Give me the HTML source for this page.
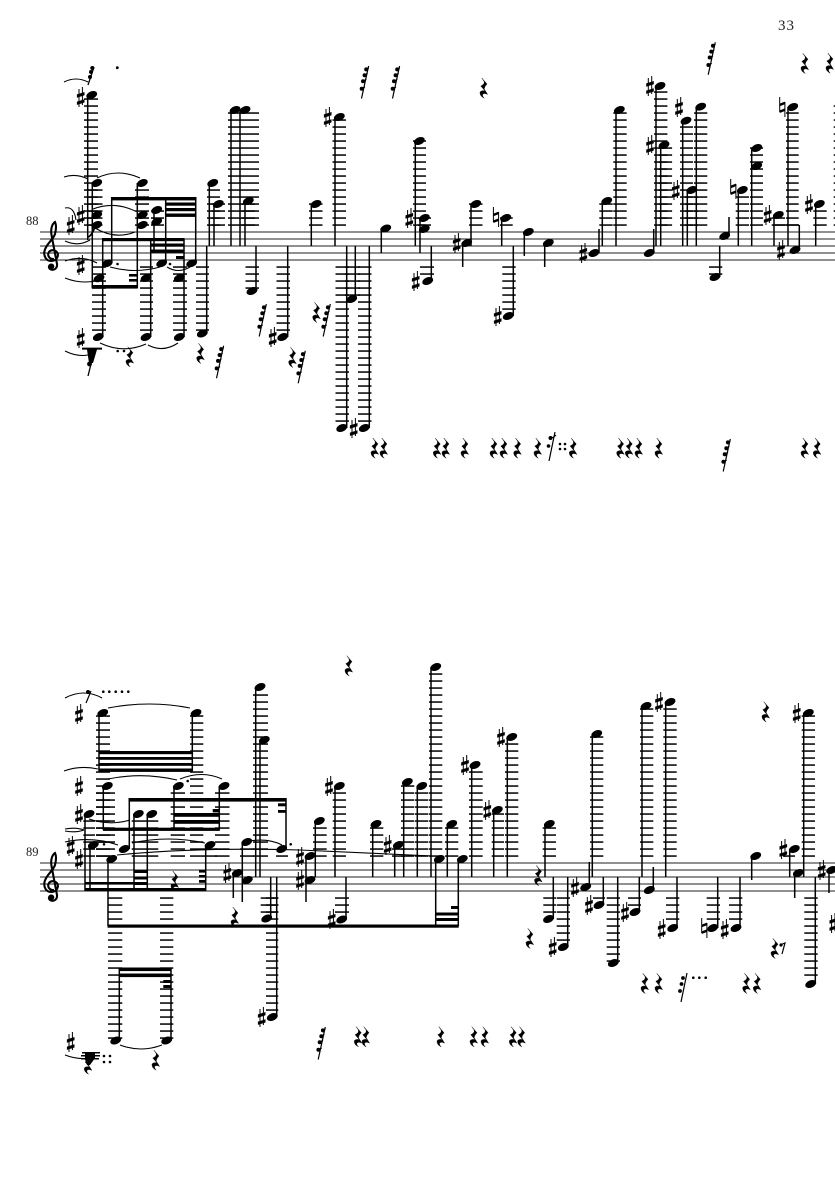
<!DOCTYPE html>
<html><head><meta charset="utf-8"><style>
html,body{margin:0;padding:0;background:#fff;width:835px;height:1181px;overflow:hidden}
svg{display:block}
text{font-family:"Liberation Serif",serif;fill:#222}
</style></head><body>
<svg width="835" height="1181" viewBox="0 0 835 1181" xmlns="http://www.w3.org/2000/svg">
<defs>
<pattern id="a" width="900" height="7" y="0.3" patternUnits="userSpaceOnUse"><rect width="900" height="1.5" fill="#000"/></pattern>
<pattern id="b" width="900" height="7" y="1.3" patternUnits="userSpaceOnUse"><rect width="900" height="1.5" fill="#000"/></pattern>
<ellipse id="n" rx="5.7" ry="3.6" transform="rotate(-22)"/>
<g id="s"><path d="M-1.7-8V10M1.7-10V8" stroke="#000" stroke-width="1" fill="none"/><path d="M-3.8-2.6L3.8-5V-1.7L-3.8.7ZM-3.8 4.6L3.8 2.2V5.5L-3.8 7.9Z"/></g>
<g id="t"><path d="M-2.6-10V5M2.6-5V10" stroke="#000" stroke-width="1" fill="none"/><path d="M-2.6-3.4L2.6-5.4V-2.8L-2.6-.8ZM-2.6 3.4L2.6 1.4V4L-2.6 6Z"/></g>
<path id="r" d="M-2.2-10L3-4Q.4-1.5.2 1L3.6 6.4Q-.6 4.4-1.6 7Q-1.3 8.8.2 10.2Q-4.4 8-4 4Q-2.2 2 1 3L-3.2-2Q1.2-4 0-6.8Z" stroke="#000" stroke-width=".4"/>
<g id="h"><path d="M-3.5 16.5L3.6-16" stroke="#000" stroke-width="1.2"/><circle cx="-3.3" cy="6.7" r="2"/><circle cx="-2" cy="-.8" r="2"/><circle cx="-.4" cy="-6.7" r="2"/><circle cx="1.2" cy="-12.6" r="2"/><path d="M-3.3 6.7L0 5M-2-.8L1.3-2.6M-.4-6.7L2.6-8.6M1.2-12.6L3.8-14.2" stroke="#000" stroke-width="1.2"/></g>
<path id="c" d="M54 259C49 259.5 47 255 49 252C51 249 56 250 57.5 253C59 257 56 261 51 261C46 261 43.5 256 44.5 251C46 244 53 240 55 234C56 230 56.5 225 55 222C52 224 50.5 229 51.5 235L57 264C57.5 269 53 271 50 269C48 267.5 49 264.5 51.5 264.5" fill="none" stroke="#000" stroke-width="2.1"/>
</defs>

<text x="778" y="30" font-size="15" letter-spacing="1">33</text>
<text x="26" y="225" font-size="12.5">88</text>
<text x="26" y="856" font-size="12.5">89</text>

<path d="M40 232H835M40 239H835M40 246H835M40 253H835M40 260H835M40 863H835M40 870H835M40 877H835M40 884H835M40 891H835" stroke="#222" stroke-width="1.1" fill="none"/>
<use href="#c"/><circle cx="51.5" cy="266.3" r="2.8"/>
<use href="#c" y="631"/><circle cx="51.5" cy="897.3" r="2.8"/>

<g fill="url(#a)">
<rect x="84" y="98" width="14" height="129"/>
<rect x="88.5" y="189" width="14" height="38"/>
<rect x="135" y="189" width="14" height="38"/>
<rect x="151" y="210" width="13" height="17"/>
<rect x="92" y="266" width="14" height="66"/>
<rect x="140" y="266" width="13" height="66"/>
<rect x="173" y="266" width="14" height="66"/>
<rect x="196" y="266" width="13" height="66"/>
<rect x="207" y="189" width="13" height="38"/>
<rect x="211.5" y="203" width="13.5" height="24"/>
<rect x="228" y="112" width="31" height="115"/>
<rect x="241.5" y="203" width="13.5" height="24"/>
<rect x="245.5" y="266" width="13.5" height="24"/>
<rect x="276.5" y="266" width="13.5" height="66"/>
<rect x="309" y="203" width="13.5" height="24"/>
<rect x="332.5" y="119" width="13.5" height="108"/>
<rect x="335.5" y="266" width="13.5" height="161"/>
<rect x="345" y="266" width="15" height="30"/>
<rect x="358" y="266" width="13.5" height="161"/>
<rect x="413" y="140" width="13" height="87"/>
<rect x="418" y="217" width="13" height="10"/>
<rect x="420" y="266" width="14" height="10"/>
<rect x="469" y="203" width="13.5" height="24"/>
<rect x="500" y="217" width="12.7" height="10"/>
<rect x="502.3" y="266" width="13.4" height="45"/>
<rect x="599.3" y="203" width="13.4" height="24"/>
<rect x="613.3" y="112" width="13.4" height="115"/>
<rect x="654" y="91" width="13.4" height="136"/>
<rect x="658.7" y="147" width="13.4" height="80"/>
<rect x="680" y="126" width="13" height="101"/>
<rect x="694" y="112" width="13.3" height="115"/>
<rect x="685" y="196" width="13" height="31"/>
<rect x="709" y="266" width="13.3" height="10"/>
<rect x="735.7" y="196" width="13.3" height="31"/>
<rect x="750" y="147" width="13" height="80"/>
<rect x="771.7" y="217" width="13.3" height="10"/>
<rect x="786" y="112" width="12.7" height="115"/>
<rect x="813.3" y="210" width="13.4" height="17"/>
<rect x="833.7" y="105" width="2" height="122"/>
</g>

<g fill="url(#b)">
<rect x="96" y="715" width="14" height="143"/>
<rect x="190" y="715" width="13.3" height="143"/>
<rect x="96" y="792" width="19" height="66"/>
<rect x="170.7" y="792" width="14.3" height="66"/>
<rect x="215" y="792" width="14.5" height="66"/>
<rect x="131.7" y="820" width="26.6" height="38"/>
<rect x="83.3" y="820" width="11.7" height="38"/>
<rect x="203" y="848" width="14" height="10"/>
<rect x="240" y="848" width="14" height="10"/>
<rect x="276" y="855" width="12" height="3"/>
<rect x="253" y="693" width="15" height="165"/>
<rect x="108" y="897" width="14.3" height="143"/>
<rect x="160" y="897" width="13.3" height="143"/>
<rect x="260.7" y="897" width="17.6" height="17"/>
<rect x="266" y="897" width="12.3" height="114"/>
<rect x="313" y="827" width="13.7" height="31"/>
<rect x="332.7" y="792" width="13.3" height="66"/>
<rect x="335" y="897" width="14" height="17"/>
<rect x="370" y="827" width="13.3" height="31"/>
<rect x="392" y="848" width="13" height="10"/>
<rect x="401" y="785" width="13.3" height="73"/>
<rect x="415" y="792" width="13.3" height="66"/>
<rect x="429" y="673" width="13.3" height="185"/>
<rect x="445" y="827" width="13.3" height="31"/>
<rect x="469" y="771" width="13.7" height="87"/>
<rect x="491.7" y="813" width="12.3" height="45"/>
<rect x="505" y="743" width="13.3" height="115"/>
<rect x="542.7" y="827" width="13.3" height="31"/>
<rect x="543.3" y="897" width="12.7" height="17"/>
<rect x="556.7" y="897" width="13.3" height="45"/>
<rect x="590" y="736" width="13.3" height="122"/>
<rect x="593" y="897" width="12" height="3"/>
<rect x="606.7" y="897" width="13.3" height="66"/>
<rect x="628" y="897" width="13" height="10"/>
<rect x="640" y="708" width="13.3" height="150"/>
<rect x="663.3" y="708" width="13.4" height="150"/>
<rect x="666" y="897" width="13.3" height="24"/>
<rect x="706.7" y="897" width="13.3" height="24"/>
<rect x="729" y="897" width="13.3" height="24"/>
<rect x="783" y="855" width="12" height="3"/>
<rect x="801.7" y="715" width="13.3" height="143"/>
<rect x="804.3" y="897" width="13.4" height="80"/>
</g>

<path fill="none" stroke="#000" stroke-width="1.5" d="
M87.7 95V240M92.3 183V288M137.3 183V288M111.7 197V263M165.7 197V263M195.7 197V263M102.7 238V337M150.7 239V337M184 239V337M154 210V250
M206.7 246V333M209.3 183V246M214 204V246M231 110V246M240 110V246M245 201V246M256 246V291M287.7 246V337M311.3 204V246M335 117V246M346.7 246V428M355.3 246V299M369.3 246V428M381.3 228V253M415.3 141V246M420 218V253M431.3 246V281M462.7 243V267M471 204V246M501.7 218V246M513.3 246V316M524.3 232V256M544.7 243V267M599 229V253M602.3 201V246M616 110V246M653.7 229V253M656 86V246M660.7 145V246M682.7 121V246M696.3 107V246M687.3 190V246M729 217V236M719.7 246V277M738.3 190V246M751.7 148V246M774 215V246M799.3 225V250M788 107V246M815.7 204V246
M99 713V771M192.3 713V771M103.3 786V830M174 786V830M219.3 786V830M85 814V891M90 845V891M108 859V926M129.3 798V849M286 798V849M134 814V891M147.3 814V891M205.7 845V891M242.3 842V902M233.3 873V898M251 877V880M255.7 687V877M260 740V877M270.7 877V918M276.7 877V1017M119.3 968V1040M171 968V1040
M306 856V902M315.3 821V877M335 786V877M346 877V919M372.7 824V877M394.7 845V877M403.7 782V877M417.3 786V877M431 667V877M435.7 859V926M447.3 824V877M458.3 859V926M471.7 765V877M493.7 810V877M507.3 737V877M545 824V877M553.3 877V919M567.7 877V947M589.3 862V887M592.3 734V877M603.3 877V905M617.7 877V963M639.3 877V912M642 706V877M653.3 867V890M665.7 702V877M677 877V928M717.7 877V928M740 877V928M751.7 856V880M789.7 849V877M794.7 873V898M803.7 713V877M815.3 877V984M829 870V893"/>
<path d="M775 225H799" stroke="#000" stroke-width="1.4"/>

<g>
<rect x="111" y="197" width="85.5" height="3.4"/>
<rect x="165.7" y="202.5" width="30.5" height="3.2"/><rect x="165.7" y="208" width="30.5" height="3.2"/><rect x="165.7" y="213.5" width="30.5" height="3.4"/>
<rect x="102.2" y="238" width="82.3" height="3.2"/><rect x="150.7" y="243.5" width="33.5" height="3.2"/><rect x="150.7" y="249.5" width="33.5" height="3.2"/><rect x="176" y="256" width="8.3" height="3"/>
<rect x="91.7" y="285" width="46" height="3.6"/><rect x="129" y="274" width="8.5" height="2.6"/><rect x="129" y="279" width="8.5" height="2.6"/>
<rect x="98.5" y="751" width="94.3" height="3.2"/><rect x="98.5" y="757" width="94.3" height="2.8"/><rect x="98.5" y="763" width="94.3" height="2.8"/><rect x="98.5" y="768.5" width="94.3" height="3.4"/>
<rect x="103" y="827.7" width="116.8" height="3.2"/><rect x="174" y="813" width="45.5" height="3.8"/><rect x="174" y="820" width="45.5" height="3.8"/><rect x="212.7" y="809" width="6.8" height="3.4"/>
<rect x="128.5" y="798" width="158" height="3.6"/><rect x="278" y="803.3" width="8.3" height="3"/><rect x="278" y="810" width="8.3" height="2.8"/>
<rect x="85" y="888" width="121" height="3.2"/><rect x="85" y="882" width="48.5" height="2.6"/>
<rect x="133.5" y="870" width="14" height="3"/><rect x="133.5" y="876.5" width="14" height="3"/><rect x="133.5" y="882" width="14" height="3"/>
<rect x="199" y="870" width="7" height="2.6"/><rect x="199" y="875" width="7" height="2.6"/><rect x="199" y="880" width="7" height="2.8"/>
<rect x="107.5" y="924.5" width="351.2" height="3.2"/>
<rect x="119" y="967.5" width="52.5" height="3.6"/><rect x="119" y="973.5" width="52.5" height="3.6"/><rect x="163.3" y="980" width="8.2" height="3"/><rect x="163.3" y="985" width="8.2" height="3"/>
<rect x="435.7" y="912.5" width="23" height="3"/><rect x="435.7" y="918" width="23" height="3"/><rect x="451" y="906" width="7.5" height="3"/>
</g>

<g>
<use href="#n" x="91.7" y="95"/><use href="#n" x="96.7" y="183"/><use href="#n" x="142.3" y="183"/><use href="#n" x="96.7" y="215"/><use href="#n" x="96.7" y="225"/><use href="#n" x="142.3" y="215"/><use href="#n" x="142.3" y="225"/><use href="#n" x="156.7" y="210"/><use href="#n" x="156.7" y="221.7"/><use href="#n" x="107.3" y="263.3"/><use href="#n" x="161.7" y="263.3"/><use href="#n" x="191.7" y="263.3"/><use href="#n" x="99" y="278.3"/><use href="#n" x="146" y="278"/><use href="#n" x="179.3" y="278"/><use href="#n" x="98.3" y="337"/><use href="#n" x="146" y="337"/><use href="#n" x="179.3" y="337"/><use href="#n" x="202.3" y="333.5"/><use href="#n" x="212.7" y="183"/><use href="#n" x="218.3" y="204"/><use href="#n" x="235" y="110"/><use href="#n" x="245" y="110"/><use href="#n" x="248.3" y="201"/><use href="#n" x="252" y="291"/><use href="#n" x="282.7" y="337"/><use href="#n" x="316" y="204"/><use href="#n" x="339.3" y="117"/><use href="#n" x="341.7" y="428"/><use href="#n" x="351.7" y="299"/><use href="#n" x="364.3" y="428"/><use href="#n" x="385.7" y="228.5"/><use href="#n" x="419.3" y="141"/><use href="#n" x="424.3" y="218"/><use href="#n" x="424.3" y="229"/><use href="#n" x="427.7" y="281"/><use href="#n" x="466.7" y="243"/><use href="#n" x="475.7" y="204"/><use href="#n" x="505.7" y="218"/><use href="#n" x="508.3" y="316"/><use href="#n" x="528.3" y="232"/><use href="#n" x="548.3" y="243"/><use href="#n" x="594" y="253"/><use href="#n" x="606.7" y="201"/><use href="#n" x="619.3" y="110"/><use href="#n" x="649.3" y="253"/><use href="#n" x="660" y="86"/><use href="#n" x="664" y="145"/><use href="#n" x="686" y="120.7"/><use href="#n" x="700.7" y="106.7"/><use href="#n" x="691.7" y="190"/><use href="#n" x="724.7" y="236"/><use href="#n" x="715" y="277"/><use href="#n" x="742.3" y="190"/><use href="#n" x="756.7" y="148"/><use href="#n" x="756.7" y="166"/><use href="#n" x="778.3" y="215"/><use href="#n" x="795" y="250"/><use href="#n" x="792.7" y="107"/><use href="#n" x="819.3" y="204"/>
<use href="#n" x="102.7" y="713"/><use href="#n" x="196" y="713"/><use href="#n" x="107.3" y="786"/><use href="#n" x="178.3" y="786"/><use href="#n" x="224" y="786"/><use href="#n" x="89" y="814"/><use href="#n" x="138.3" y="814"/><use href="#n" x="151.7" y="814"/><use href="#n" x="93.3" y="845"/><use href="#n" x="111.7" y="859"/><use href="#n" x="124.3" y="849"/><use href="#n" x="210" y="845"/><use href="#n" x="246.7" y="842"/><use href="#n" x="237.3" y="873"/><use href="#n" x="247.3" y="880"/><use href="#n" x="260" y="687"/><use href="#n" x="264.3" y="740"/><use href="#n" x="281.7" y="849"/><use href="#n" x="266.7" y="918.5"/><use href="#n" x="272.3" y="1017"/><use href="#n" x="115.7" y="1040.5"/><use href="#n" x="166.7" y="1040.5"/><use href="#n" x="310" y="856"/><use href="#n" x="310" y="880"/><use href="#n" x="319.3" y="821"/><use href="#n" x="339.3" y="786"/><use href="#n" x="341.7" y="919.5"/><use href="#n" x="376" y="824"/><use href="#n" x="398.3" y="845"/><use href="#n" x="407.3" y="782"/><use href="#n" x="421.7" y="786"/><use href="#n" x="435.7" y="667"/><use href="#n" x="439.3" y="859"/><use href="#n" x="462.3" y="859"/><use href="#n" x="451.7" y="824"/><use href="#n" x="475" y="765"/><use href="#n" x="497.3" y="810"/><use href="#n" x="511.7" y="737"/><use href="#n" x="549.3" y="824"/><use href="#n" x="548.5" y="919"/><use href="#n" x="563.3" y="947"/><use href="#n" x="585.7" y="887"/><use href="#n" x="596.7" y="734"/><use href="#n" x="599" y="905"/><use href="#n" x="613.3" y="963"/><use href="#n" x="635" y="912"/><use href="#n" x="646" y="706"/><use href="#n" x="649.3" y="890"/><use href="#n" x="670" y="702"/><use href="#n" x="672.7" y="928"/><use href="#n" x="712.7" y="928"/><use href="#n" x="736" y="928"/><use href="#n" x="755.7" y="856"/><use href="#n" x="794.3" y="849"/><use href="#n" x="798.3" y="873"/><use href="#n" x="808.3" y="713"/><use href="#n" x="810.7" y="984"/><use href="#n" x="831.7" y="870"/>
</g>

<g>
<use href="#s" x="80.7" y="97"/><use href="#s" x="80.7" y="215"/><use href="#s" x="70.7" y="225"/><use href="#s" x="80.7" y="265"/><use href="#s" x="80.7" y="338"/><use href="#s" x="272.7" y="337"/><use href="#s" x="327.7" y="117"/><use href="#s" x="353.7" y="428"/><use href="#s" x="409.3" y="218"/><use href="#s" x="415.7" y="281"/><use href="#s" x="456.7" y="243"/><use href="#s" x="497.7" y="316"/><use href="#s" x="583.3" y="253"/><use href="#s" x="650" y="86"/><use href="#s" x="650" y="145"/><use href="#s" x="679" y="107"/><use href="#s" x="675.7" y="190"/><use href="#s" x="767.7" y="215"/><use href="#s" x="781" y="250"/><use href="#s" x="809" y="204"/>
<use href="#s" x="79" y="714"/><use href="#s" x="79" y="786"/><use href="#s" x="79" y="814"/><use href="#s" x="70.7" y="846"/><use href="#s" x="79" y="859"/><use href="#s" x="70.7" y="1042"/><use href="#s" x="227.3" y="873"/><use href="#s" x="261.7" y="1017"/><use href="#s" x="300" y="857"/><use href="#s" x="300" y="880"/><use href="#s" x="329" y="786"/><use href="#s" x="331.7" y="919"/><use href="#s" x="387.7" y="845"/><use href="#s" x="465" y="765"/><use href="#s" x="487.3" y="810"/><use href="#s" x="501" y="737"/><use href="#s" x="552.7" y="947"/><use href="#s" x="575" y="887"/><use href="#s" x="589" y="905"/><use href="#s" x="625" y="912"/><use href="#s" x="659" y="702"/><use href="#s" x="661.7" y="929"/><use href="#s" x="724.7" y="929"/><use href="#s" x="783.3" y="849"/><use href="#s" x="796.7" y="713"/><use href="#s" x="821.7" y="870"/><use href="#s" x="833.3" y="923"/>
<use href="#t" x="496" y="217"/><use href="#t" x="733.3" y="189"/><use href="#t" x="782.3" y="107"/><use href="#t" x="704.3" y="928"/>
</g>

<g>
<use href="#r" x="200.7" y="353.3"/><use href="#r" x="130" y="356.7"/><use href="#r" x="316.7" y="312.3"/><use href="#r" x="292.7" y="357.3"/><use href="#r" x="484" y="88"/><use href="#r" x="805" y="63.3"/><use href="#r" x="830" y="63"/>
<use href="#r" x="375" y="448"/><use href="#r" x="384" y="448"/><use href="#r" x="437.3" y="448"/><use href="#r" x="446" y="448"/><use href="#r" x="465" y="448"/><use href="#r" x="494" y="448"/><use href="#r" x="504" y="448"/><use href="#r" x="517.7" y="448"/><use href="#r" x="538" y="448"/><use href="#r" x="573.3" y="448"/><use href="#r" x="620.7" y="448"/><use href="#r" x="629.3" y="448"/><use href="#r" x="639" y="448"/><use href="#r" x="659" y="448"/><use href="#r" x="805" y="448"/><use href="#r" x="817.3" y="448"/>
<use href="#r" x="175" y="881"/><use href="#r" x="235" y="917"/><use href="#r" x="349" y="665.7"/><use href="#r" x="538.5" y="875.5"/><use href="#r" x="530" y="938.3"/><use href="#r" x="766" y="711.7"/><use href="#r" x="775" y="948.3"/><use href="#r" x="645" y="983.3"/><use href="#r" x="659" y="983.3"/><use href="#r" x="746.7" y="983.3"/><use href="#r" x="757.3" y="983.3"/><use href="#r" x="156" y="1060"/><use href="#r" x="88.3" y="1064"/>
<use href="#r" x="358.3" y="1036.7"/><use href="#r" x="366" y="1036.7"/><use href="#r" x="441" y="1036.7"/><use href="#r" x="474" y="1036.7"/><use href="#r" x="485" y="1036.7"/><use href="#r" x="513.3" y="1036.7"/><use href="#r" x="521.7" y="1036.7"/>
</g>

<g>
<use href="#h" x="220" y="361.7"/><use href="#h" x="262.7" y="320"/><use href="#h" x="326.7" y="320"/><use href="#h" x="301.7" y="366.7"/><use href="#h" x="365" y="82"/><use href="#h" x="396" y="82"/><use href="#h" x="711.7" y="58.3"/><use href="#h" x="726.7" y="455"/><use href="#h" x="321.7" y="1043"/>
<path d="M88 85L94 67" stroke="#000" stroke-width="1.3"/><circle cx="90" cy="77" r="2"/><circle cx="91" cy="72" r="2"/><circle cx="92.3" cy="68" r="2"/>
</g>

<g>
<path d="M549 461L555 432M551 438Q553 438 556 435" stroke="#000" stroke-width="1.2" fill="none"/><circle cx="550.5" cy="438" r="2"/><circle cx="548.5" cy="446" r="1.8"/>
<circle cx="560" cy="444" r="1.3"/><circle cx="565" cy="444" r="1.3"/><circle cx="560" cy="449" r="1.3"/><circle cx="565" cy="449" r="1.3"/>
<path d="M86 703L91 691" stroke="#000" stroke-width="1.2"/><circle cx="88" cy="692" r="2"/>
<path d="M681 1002L687 973" stroke="#000" stroke-width="1.2"/><circle cx="683" cy="978" r="1.9"/><circle cx="681.5" cy="984" r="1.9"/><circle cx="680" cy="991" r="1.9"/>
<path d="M782 954L785 943L780 945" stroke="#000" stroke-width="1.2" fill="none"/><circle cx="781" cy="945" r="1.6"/>
<circle cx="117.3" cy="67.7" r="1.4"/><circle cx="117.7" cy="351" r="1.3"/><circle cx="124" cy="351" r="1.3"/><circle cx="117.5" cy="264" r="1.3"/><circle cx="170" cy="264" r="1.3"/>
<circle cx="103.3" cy="691.7" r="1.3"/><circle cx="109.3" cy="691.7" r="1.3"/><circle cx="115.7" cy="691.7" r="1.3"/><circle cx="122" cy="691.7" r="1.3"/><circle cx="128.3" cy="691.7" r="1.3"/>
<circle cx="693.3" cy="977.7" r="1.3"/><circle cx="699.3" cy="977.7" r="1.3"/><circle cx="705.7" cy="977.7" r="1.3"/>
<circle cx="104" cy="844.3" r="1.3"/><circle cx="290.7" cy="844.3" r="1.3"/><circle cx="187.7" cy="781" r="1.3"/>
<circle cx="104" cy="1056" r="1.3"/><circle cx="110" cy="1056" r="1.3"/><circle cx="104" cy="1062" r="1.3"/><circle cx="110" cy="1062" r="1.3"/>
</g>

<path d="M82 347.6H102V349.6H97L93 363H89L87 349.6H82Z"/><path d="M88 376L92 360" stroke="#000" stroke-width="1.3"/><circle cx="89.5" cy="364" r="2.4"/>
<path d="M82 1052H100V1053.5H95V1055H100V1056.5H95V1058H99V1059.5H94L90 1065H87L85 1059.5H81V1058H85V1056.5H81V1055H85V1053.5H82Z"/>
<path d="M88 237Q92 236 96 224" stroke="#000" stroke-width="1.8" fill="none"/>

<g fill="none" stroke="#000" stroke-width="1.1">
<path d="M64 82Q76 76 88 82"/><path d="M64 177Q76 173 88 179"/><path d="M65 208Q74 206 76 220"/><path d="M65 241Q78 247 90 240"/><path d="M65 261Q82 255 97 263"/><path d="M65 278Q80 284 95 281"/><path d="M65 351Q77 357 88 355"/>
<path d="M97 178Q118 168 140 178"/><path d="M93 209Q114 201 135 211"/><path d="M95 228Q115 240 135 232"/><path d="M100 343Q123 354 146 344"/><path d="M148 345Q163 353 178 343"/><path d="M110 267Q135 274 160 267"/><path d="M167 267Q178 274 190 267"/>
<path d="M65 698Q84 688 102 698"/><path d="M64 771Q80 765 98 769"/><path d="M65 829Q76 827 84 830"/><path d="M65 831Q76 833 84 830"/><path d="M65 842Q92 836 118 845"/><path d="M65 1055Q78 1060 90 1058"/>
<path d="M108 708Q150 700 190 708"/><path d="M108 779Q142 772 177 780"/><path d="M180 779Q202 770 222 779"/><path d="M89 819Q110 826 130 820"/><path d="M132 843Q168 835 205 843"/><path d="M250 841Q268 838 282 845"/><path d="M120 1045Q141 1053 162 1045"/>
<path d="M117 855Q200 847 300 850L433 856"/>
</g>
</svg>
</body></html>
